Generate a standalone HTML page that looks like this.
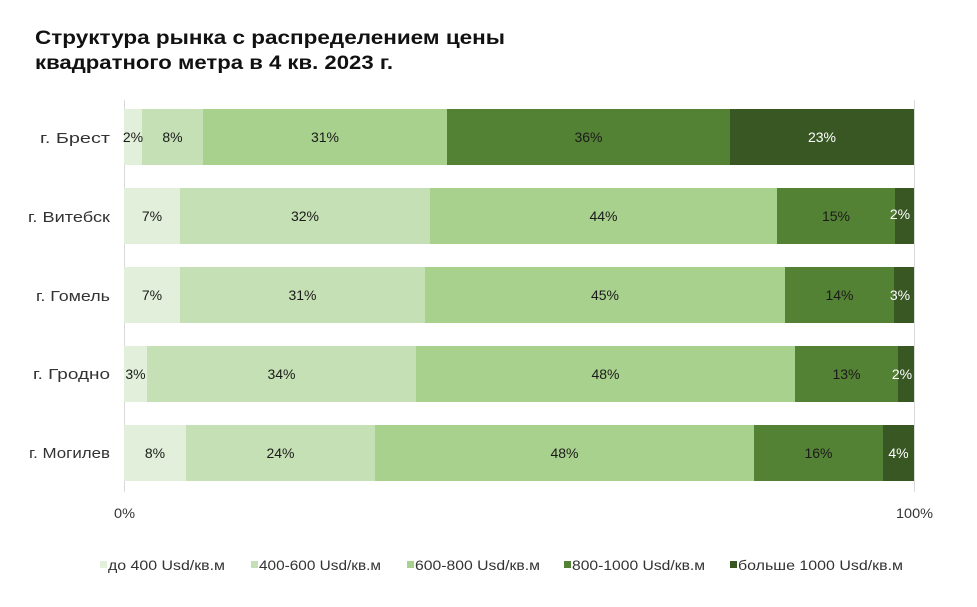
<!DOCTYPE html>
<html>
<head>
<meta charset="utf-8">
<style>
html,body{margin:0;padding:0;background:#fff;}
svg{display:block;}
text{font-family:"Liberation Sans","DejaVu Sans",sans-serif;}
</style>
</head>
<body>
<svg width="977" height="607" viewBox="0 0 977 607" xmlns="http://www.w3.org/2000/svg">
<rect width="977" height="607" fill="#fff"/>
<!-- Title -->
<text x="35" y="44" font-size="19" font-weight="bold" fill="#111" textLength="470" lengthAdjust="spacingAndGlyphs">Структура рынка с распределением цены</text>
<text x="35" y="69" font-size="19" font-weight="bold" fill="#111" textLength="358" lengthAdjust="spacingAndGlyphs">квадратного метра в 4 кв. 2023 г.</text>

<!-- axis lines -->
<line x1="124.5" y1="100" x2="124.5" y2="492" stroke="#d9d9d9" stroke-width="1"/>
<line x1="914.5" y1="100" x2="914.5" y2="492" stroke="#d9d9d9" stroke-width="1"/>

<!-- Brest -->
<g>
<rect x="124" y="109" width="18" height="56" fill="#e2efda"/>
<rect x="142" y="109" width="61" height="56" fill="#c5e0b4"/>
<rect x="203" y="109" width="244" height="56" fill="#a9d18e"/>
<rect x="447" y="109" width="283" height="56" fill="#548235"/>
<rect x="730" y="109" width="184" height="56" fill="#385723"/>
</g>
<!-- Vitebsk -->
<g>
<rect x="124" y="188" width="56" height="56" fill="#e2efda"/>
<rect x="180" y="188" width="250" height="56" fill="#c5e0b4"/>
<rect x="430" y="188" width="347" height="56" fill="#a9d18e"/>
<rect x="777" y="188" width="118" height="56" fill="#548235"/>
<rect x="895" y="188" width="19" height="56" fill="#385723"/>
</g>
<!-- Gomel -->
<g>
<rect x="124" y="267" width="56" height="56" fill="#e2efda"/>
<rect x="180" y="267" width="245" height="56" fill="#c5e0b4"/>
<rect x="425" y="267" width="360" height="56" fill="#a9d18e"/>
<rect x="785" y="267" width="109" height="56" fill="#548235"/>
<rect x="894" y="267" width="20" height="56" fill="#385723"/>
</g>
<!-- Grodno -->
<g>
<rect x="124" y="346" width="23" height="56" fill="#e2efda"/>
<rect x="147" y="346" width="269" height="56" fill="#c5e0b4"/>
<rect x="416" y="346" width="379" height="56" fill="#a9d18e"/>
<rect x="795" y="346" width="103" height="56" fill="#548235"/>
<rect x="898" y="346" width="16" height="56" fill="#385723"/>
</g>
<!-- Mogilev -->
<g>
<rect x="124" y="425" width="62" height="56" fill="#e2efda"/>
<rect x="186" y="425" width="189" height="56" fill="#c5e0b4"/>
<rect x="375" y="425" width="379" height="56" fill="#a9d18e"/>
<rect x="754" y="425" width="129" height="56" fill="#548235"/>
<rect x="883" y="425" width="31" height="56" fill="#385723"/>
</g>

<!-- value labels -->
<g font-size="14" text-anchor="middle" fill="#1a1a1a">
<text x="133" y="142">2%</text>
<text x="172.5" y="142">8%</text>
<text x="325" y="142">31%</text>
<text x="588.5" y="142">36%</text>
<text x="822" y="142" fill="#fff">23%</text>

<text x="152" y="221">7%</text>
<text x="305" y="221">32%</text>
<text x="603.5" y="221">44%</text>
<text x="836" y="221">15%</text>
<text x="900" y="219" fill="#fff">2%</text>

<text x="152" y="300">7%</text>
<text x="302.5" y="300">31%</text>
<text x="605" y="300">45%</text>
<text x="839.5" y="300">14%</text>
<text x="900" y="300" fill="#fff">3%</text>

<text x="135.5" y="379">3%</text>
<text x="281.5" y="379">34%</text>
<text x="605.5" y="379">48%</text>
<text x="846.5" y="379">13%</text>
<text x="902" y="379" fill="#fff">2%</text>

<text x="155" y="458">8%</text>
<text x="280.5" y="458">24%</text>
<text x="564.5" y="458">48%</text>
<text x="818.5" y="458">16%</text>
<text x="898.5" y="458" fill="#fff">4%</text>
</g>

<!-- category labels -->
<g font-size="15" text-anchor="end" fill="#333">
<text x="110" y="143" textLength="70" lengthAdjust="spacingAndGlyphs">г. Брест</text>
<text x="110" y="222" textLength="82" lengthAdjust="spacingAndGlyphs">г. Витебск</text>
<text x="110" y="301" textLength="74" lengthAdjust="spacingAndGlyphs">г. Гомель</text>
<text x="110" y="379" textLength="77" lengthAdjust="spacingAndGlyphs">г. Гродно</text>
<text x="110" y="458" textLength="81" lengthAdjust="spacingAndGlyphs">г. Могилев</text>
</g>

<!-- axis tick labels -->
<text x="114" y="518" font-size="14" fill="#333" textLength="21" lengthAdjust="spacingAndGlyphs">0%</text>
<text x="896" y="518" font-size="14" fill="#333" textLength="37" lengthAdjust="spacingAndGlyphs">100%</text>

<!-- legend -->
<g font-size="14" fill="#333">
<rect x="100" y="561" width="7" height="7" fill="#e2efda"/>
<text x="108" y="570" textLength="117" lengthAdjust="spacingAndGlyphs">до 400 Usd/кв.м</text>
<rect x="251" y="561" width="7" height="7" fill="#c5e0b4"/>
<text x="259" y="570" textLength="122" lengthAdjust="spacingAndGlyphs">400-600 Usd/кв.м</text>
<rect x="407" y="561" width="7" height="7" fill="#a9d18e"/>
<text x="415" y="570" textLength="125" lengthAdjust="spacingAndGlyphs">600-800 Usd/кв.м</text>
<rect x="564" y="561" width="7" height="7" fill="#548235"/>
<text x="572" y="570" textLength="133" lengthAdjust="spacingAndGlyphs">800-1000 Usd/кв.м</text>
<rect x="730" y="561" width="7" height="7" fill="#385723"/>
<text x="738" y="570" textLength="165" lengthAdjust="spacingAndGlyphs">больше 1000 Usd/кв.м</text>
</g>
</svg>
</body>
</html>
